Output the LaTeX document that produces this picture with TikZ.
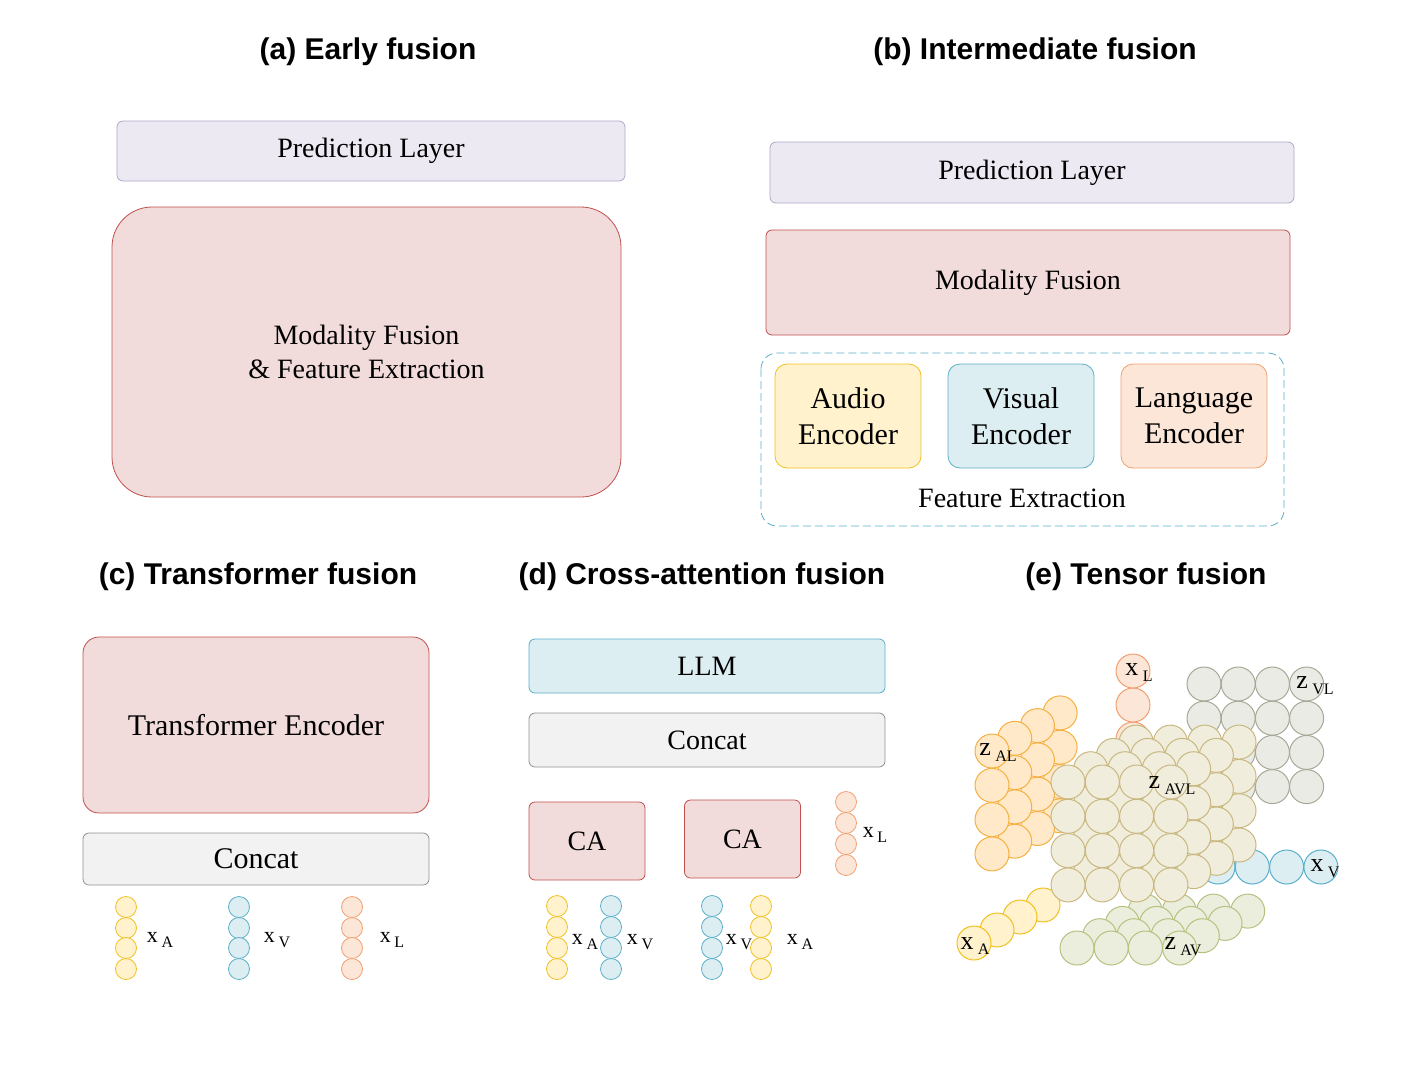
\documentclass[tikz,border=0pt]{standalone}
\usepackage{fontspec}
\setmainfont{Liberation Serif}
\newfontfamily\ttl{Liberation Sans}
\begin{document}
\begin{tikzpicture}[x=0.5pt,y=-0.5pt,
  title/.style={font=\ttl\bfseries\fontsize{15}{18}\selectfont},
  box/.style={draw,rounded corners=3pt,font=\fontsize{14}{17}\selectfont,align=center,line width=0.4pt},
  red/.style={box,fill=r1,draw=r2},
  pred/.style={box,fill=p1,draw=p2},
  cat/.style={box,fill=g1,draw=g2},
  dot/.style={circle,draw,inner sep=0pt,minimum size=10.5pt,line width=0.4pt},
  big/.style={circle,draw,inner sep=0pt,minimum size=17pt,line width=0.5pt},
  lab/.style={font=\fontsize{11}{12}\selectfont,inner sep=0pt},
  blab/.style={font=\fontsize{13}{14}\selectfont,inner sep=0pt}]
\definecolor{r1}{HTML}{F2DCDB}\definecolor{r2}{HTML}{C0504D}
\definecolor{p1}{HTML}{EDE9F2}\definecolor{p2}{HTML}{B0A8C8}
\definecolor{g1}{HTML}{F2F2F2}\definecolor{g2}{HTML}{909090}
\definecolor{ya}{HTML}{FFF2CC}\definecolor{yb}{HTML}{F0C020}
\definecolor{oa}{HTML}{FFE9C9}\definecolor{ob}{HTML}{F5B041}
\definecolor{la}{HTML}{FCE6D8}\definecolor{lb}{HTML}{F0A070}
\definecolor{va}{HTML}{DDEEF3}\definecolor{vb}{HTML}{5AAFC8}
\definecolor{ga}{HTML}{EBEBE6}\definecolor{gb}{HTML}{A8A898}
\definecolor{ca}{HTML}{F1EDDC}\definecolor{cb}{HTML}{C8B880}
\definecolor{ea}{HTML}{EBEEDC}\definecolor{eb}{HTML}{B8C080}
\newcommand\lsub[2]{#1\,\raisebox{-0.5ex}{\fontsize{8}{9}\selectfont #2}}
\useasboundingbox (0,0) rectangle (1406,1066);
% titles
\node[title] (ta) at (368,52) {(a) Early fusion};
\node[title] (tb) at (1035,52) {(b) Intermediate fusion};
\node[title] (tc) at (258,577) {(c) Transformer fusion};
\node[title] (td) at (702,577) {(d) Cross-attention fusion};
\node[title] (te) at (1146,577) {(e) Tensor fusion};
% (a)
\node[pred,minimum width=254pt,minimum height=30pt] (apl) at (371,151) {Prediction Layer};
\node[red,rounded corners=20pt,minimum width=254.5pt,minimum height=145pt] (amf) at (366.5,352) {Modality Fusion\\\& Feature Extraction};
% (b)
\node[pred,minimum width=262pt,minimum height=30.5pt] (bpl) at (1032,172.5) {Prediction Layer};
\node[red,minimum width=262pt,minimum height=52.5pt] (bmf) at (1028,282.5) {Modality Fusion};
\draw[dashed,draw=vb,rounded corners=8pt,dash pattern=on 4pt off 2pt] (761,353) rectangle (1284,526);
\node[box,fill=ya,draw=yb,rounded corners=6pt,minimum width=73pt,minimum height=52pt,font=\fontsize{15}{18}\selectfont] (aud) at (848,416) {Audio\\Encoder};
\node[box,fill=va,draw=vb,rounded corners=6pt,minimum width=73pt,minimum height=52pt,font=\fontsize{15}{18}\selectfont] (vis) at (1021,416) {Visual\\Encoder};
\node[box,fill=la,draw=lb,rounded corners=6pt,minimum width=73pt,minimum height=52pt,font=\fontsize{15}{18}\selectfont] (lan) at (1194,416) {Language\\Encoder};
\node[font=\fontsize{14}{17}\selectfont] (fe) at (1022,498) {Feature Extraction};
% (c)
\node[red,rounded corners=8pt,minimum width=173pt,minimum height=88pt,font=\fontsize{15}{18}\selectfont] (tenc) at (256,725) {Transformer Encoder};
\node[cat,minimum width=173pt,minimum height=26pt,font=\fontsize{15}{18}\selectfont] (ccat) at (256,859) {Concat};
\foreach \y [count=\i] in {907,928,948,969}{
  \node[dot,fill=ya,draw=yb] (ca\i) at (126,\y) {};
  \node[dot,fill=va,draw=vb] (cv\i) at (239,\y) {};
  \node[dot,fill=la,draw=lb] (cl\i) at (352,\y) {};}
\node[lab] (cxa) at (160,940) {\lsub{x}{A}};
\node[lab] (cxv) at (277,940) {\lsub{x}{V}};
\node[lab] (cxl) at (392,940) {\lsub{x}{L}};
% (d)
\node[box,fill=va,draw=vb,minimum width=178pt,minimum height=27pt] (llm) at (707,666) {LLM};
\node[cat,minimum width=178pt,minimum height=27pt] (dcat) at (707,740) {Concat};
\node[red,minimum width=58pt,minimum height=39pt] (ca1) at (587,841) {CA};
\node[red,minimum width=58pt,minimum height=39pt] (ca2) at (742.5,839) {CA};
\foreach \y [count=\i] in {802,823,844,865}{
  \node[dot,fill=la,draw=lb] (dl\i) at (846,\y) {};}
\foreach \y [count=\i] in {906,927,948,969}{
  \node[dot,fill=ya,draw=yb] (da\i) at (557,\y) {};
  \node[dot,fill=va,draw=vb] (dv\i) at (611,\y) {};
  \node[dot,fill=va,draw=vb] (dw\i) at (712,\y) {};
  \node[dot,fill=ya,draw=yb] (db\i) at (761,\y) {};}
\node[lab] (dxl) at (875,835) {\lsub{x}{L}};
\node[lab] (dxa) at (585,942) {\lsub{x}{A}};
\node[lab] (dxv) at (640,942) {\lsub{x}{V}};
\node[lab] (dxw) at (739,942) {\lsub{x}{V}};
\node[lab] (dxb) at (800,942) {\lsub{x}{A}};
% (e) tensor fusion
% Z_VL grid
\foreach \r in {0,...,3}{\foreach \c in {0,...,3}{
  \node[big,fill=ga,draw=gb] (vl\r\c) at (1204+34.2*\c,684+34.2*\r) {};}}
% x_L
\foreach \r in {2,1,0}{\node[big,fill=la,draw=lb] (xl\r) at (1133,671+34*\r) {};}
% Z_AL slanted layers
\foreach \k in {3,2,1,0}{\foreach \r in {0,...,3}{
  \node[big,fill=oa,draw=ob] (al\k\r) at (992+22.7*\k,751+34.3*\r-12.7*\k) {};}}
% x_V
\foreach \c in {0,...,3}{\node[big,fill=va,draw=vb] (xv\c) at (1218+34.3*\c,867) {};}
% Z_AV
\foreach \k in {3,2,1,0}{\foreach \c in {0,...,3}{
  \node[big,fill=ea,draw=eb] (av\k\c) at (1077+34.2*\c+22.7*\k,948-12.3*\k) {};}}
% x_A
\node[big,fill=ya,draw=yb] (xa3) at (1043,905) {};
\node[big,fill=ya,draw=yb] (xa2) at (1020,917) {};
\node[big,fill=ya,draw=yb] (xa1) at (997,930) {};
\node[big,fill=ya,draw=yb] (xa0) at (974,943) {};
% Z_AVL cube
\foreach \k in {3,2,1,0}{\foreach \r in {0,...,3}{\foreach \c in {0,...,3}{
  \node[big,fill=ca,draw=cb] (avl\k\r\c) at (1068+34.3*\c+22.7*\k,782+34.3*\r-13.3*\k) {};}}}
\node[blab] (lxl) at (1139,673) {\lsub{x}{L}};
\node[blab] (lzvl) at (1315,686) {\lsub{z}{VL}};
\node[blab] (lzal) at (998,753) {\lsub{z}{AL}};
\node[blab] (lzavl) at (1172,786) {\lsub{z}{AVL}};
\node[blab] (lxv) at (1325,869) {\lsub{x}{V}};
\node[blab] (lxa) at (975,946) {\lsub{x}{A}};
\node[blab] (lzav) at (1183,947) {\lsub{z}{AV}};
\end{tikzpicture}
\end{document}
